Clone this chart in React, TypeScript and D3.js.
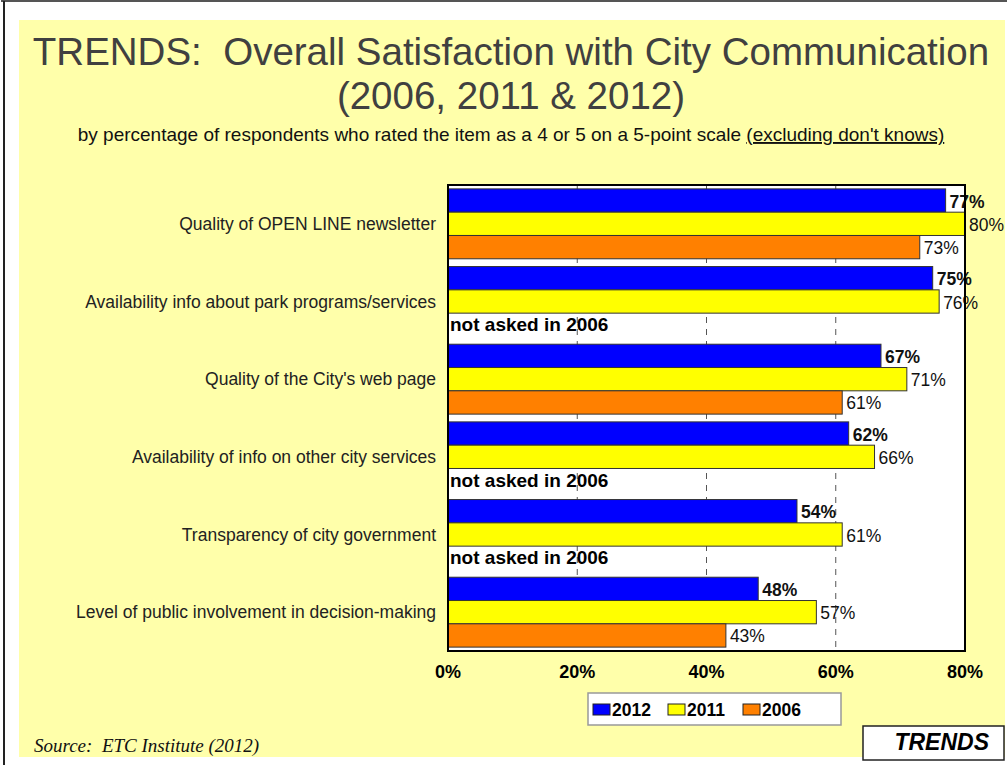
import React from 'react';
import * as d3 from 'd3';

const categories = [
  'Quality of OPEN LINE newsletter',
  'Availability info about park programs/services',
  "Quality of the City's web page",
  'Availability of info on other city services',
  'Transparency of city government',
  'Level of public involvement in decision-making',
];
const seriesNames = ['2012', '2011', '2006'];
const values2012 = [77, 75, 67, 62, 54, 48];
const values2011 = [80, 76, 71, 66, 61, 57];
const values2006: (number | null)[] = [73, null, 61, null, null, 43];
const xTicks = [0, 20, 40, 60, 80];
const colors = ['#0000ff', '#ffff00', '#ff8000'];

const W = 1007;
const H = 765;
const plot = { left: 448, right: 965, top: 185, bottom: 651 };

const App: React.FC = () => {
  const x = d3.scaleLinear().domain([0, 80]).range([plot.left, plot.right]);
  const y = d3.scaleBand<string>()
    .domain(categories)
    .range([plot.top, plot.bottom])
    .paddingInner(0.1)
    .paddingOuter(0.05);
  const ySeries = d3.scaleBand<string>()
    .domain(seriesNames)
    .range([0, y.bandwidth()]);

  const allSeries = [values2012, values2011, values2006];
  const font = '"Liberation Sans", Arial, sans-serif';
  const legendX = d3.scalePoint<string>().domain(seriesNames).range([593, 743]);

  return (
    <svg width={W} height={H} style={{ position: 'absolute', left: 0, top: 0 }} fontFamily={font}>
      <rect x={0} y={0} width={W} height={H} fill="#fff" />
      <line x1={1} y1={1} x2={W} y2={1} stroke="#555" strokeWidth={2} />
      <line x1={4} y1={1} x2={4} y2={H} stroke="#222" strokeWidth={2} />
      <rect x={19} y={20} width={986} height={737} fill="#ffffaa" />

      {/* titles */}
      <text x={511} y={65} textAnchor="middle" fontSize={38.5} fill="#404040">
        {'TRENDS:\u00a0 Overall Satisfaction with City Communication'}
      </text>
      <text x={511} y={109} textAnchor="middle" fontSize={38.5} fill="#404040">
        (2006, 2011 &amp; 2012)
      </text>
      <text x={511} y={141} textAnchor="middle" fontSize={19} fill="#111">
        by percentage of respondents who rated the item as a 4 or 5 on a 5-point scale{' '}
        <tspan textDecoration="underline">(excluding don't knows)</tspan>
      </text>

      {/* plot area */}
      <rect x={plot.left} y={plot.top} width={plot.right - plot.left} height={plot.bottom - plot.top} fill="#fff" />
      {xTicks.slice(1, -1).map(t => (
        <line key={t} x1={x(t)} x2={x(t)} y1={plot.top} y2={plot.bottom}
          stroke="#555" strokeDasharray="6,6" />
      ))}

      {categories.map((c, i) => (
        <g key={c}>
          <text x={436} y={(y(c) || 0) + y.bandwidth() / 2} textAnchor="end"
            dominantBaseline="central" fontSize={17.5} fill="#222">{c}</text>
          {allSeries.map((s, si) => {
            const v = s[i];
            const by = (y(c) || 0) + (ySeries(seriesNames[si]) || 0);
            const bh = ySeries.bandwidth();
            if (v == null) {
              return (
                <text key={si} x={plot.left + 2} y={by + bh / 2} dominantBaseline="central"
                  fontSize={19} fontWeight="bold" fill="#000">not asked in 2006</text>
              );
            }
            return (
              <g key={si}>
                <rect x={x(0)} y={by} width={x(v) - x(0)} height={bh}
                  fill={colors[si]} stroke="#333" strokeWidth={1} />
                <text x={x(v) + 4} y={by + bh / 2 + 1} dominantBaseline="central"
                  fontSize={17.5} fontWeight={si === 0 ? 'bold' : 'normal'} fill="#111">{v}%</text>
              </g>
            );
          })}
        </g>
      ))}

      <rect x={plot.left} y={plot.top} width={plot.right - plot.left} height={plot.bottom - plot.top}
        fill="none" stroke="#000" strokeWidth={2} />

      {xTicks.map(t => (
        <text key={t} x={x(t)} y={678} textAnchor="middle" fontSize={18} fontWeight="bold" fill="#000">{t}%</text>
      ))}

      {/* legend */}
      <rect x={588} y={693} width={253} height={32} fill="#fff" stroke="#999" strokeWidth={1.5} />
      {seriesNames.map((s, i) => {
        const lx = legendX(s) || 0;
        return (
          <g key={s}>
            <rect x={lx} y={704} width={17} height={11} fill={colors[i]} stroke="#222" strokeWidth={1} />
            <text x={lx + 19} y={716} fontSize={17.5} fontWeight="bold" fill="#000">{s}</text>
          </g>
        );
      })}

      {/* footer */}
      <text x={34} y={752} fontFamily='"Liberation Serif", "Times New Roman", serif' fontStyle="italic" fontSize={19} fill="#111">
        {'Source:\u00a0 ETC Institute (2012)'}
      </text>
      <rect x={863} y={726} width={141} height={34} fill="#fff" stroke="#222" strokeWidth={1.5} />
      <text x={989} y={750} textAnchor="end" fontSize={23} fontWeight="bold" fontStyle="italic" fill="#000">TRENDS</text>
    </svg>
  );
};

export default App;
